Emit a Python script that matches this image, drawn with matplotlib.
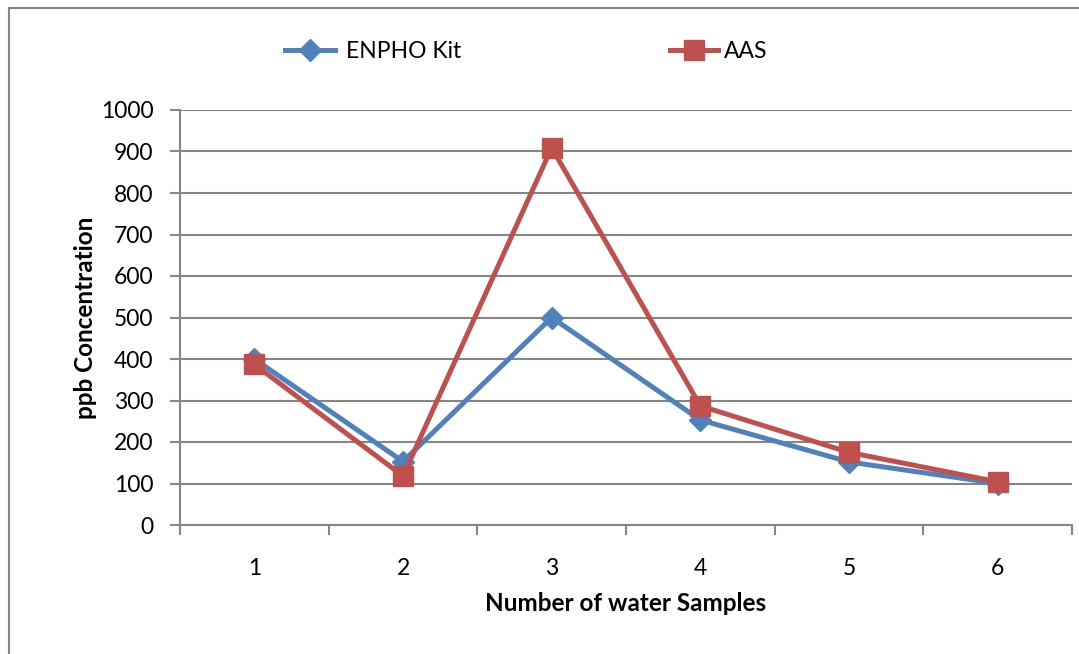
import matplotlib
matplotlib.use("Agg")
import matplotlib.pyplot as plt
from matplotlib.lines import Line2D

samples = ["1", "2", "3", "4", "5", "6"]
enpho = [400, 153, 500, 253, 152, 100]
aas = [387, 118, 909, 287, 175, 104]
yticks = [0, 100, 200, 300, 400, 500, 600, 700, 800, 900, 1000]

blue = "#4F81BD"
red = "#C0504D"
grid = "#868686"

plt.rcParams['font.family'] = ['Lato', 'DejaVu Sans']

fig = plt.figure(figsize=(10.79, 6.54), dpi=100)
ax = fig.add_axes([180/1079, 129/654, 892/1079, 415/654])

x = list(range(len(samples)))
ax.plot(x, enpho, color=blue, lw=3.6, marker="D", ms=11, mec=blue, mfc=blue,
        label="ENPHO Kit", zorder=3, solid_joinstyle="miter")
ax.plot(x, aas, color=red, lw=3.6, marker="s", ms=14, mec=red, mfc=red,
        label="AAS", zorder=4, solid_joinstyle="miter")

ax.set_xlim(-0.5, len(samples) - 0.5)
ax.set_ylim(0, 1000)
ax.set_yticks(yticks)
ax.set_yticklabels([str(v) for v in yticks])
ax.set_xticks(x)
ax.set_xticklabels(samples)
ax.set_xticks([i - 0.5 for i in range(len(samples) + 1)], minor=True)

ax.yaxis.grid(True, color=grid, lw=1.5)
ax.set_axisbelow(True)
for s in ["top", "right"]:
    ax.spines[s].set_visible(False)
for s in ["left", "bottom"]:
    ax.spines[s].set_color(grid)
    ax.spines[s].set_linewidth(1.5)

ax.tick_params(axis="y", which="major", length=7, width=1.5, color=grid,
               labelsize=16.5, pad=12)
ax.tick_params(axis="x", which="major", length=0, labelsize=16.5, pad=24)
ax.tick_params(axis="x", which="minor", length=7, width=1.5, color=grid)

ax.set_xlabel("Number of water Samples", fontsize=17.5, fontweight="bold", labelpad=9)
ax.set_ylabel("ppb Concentration", fontsize=17.5, fontweight="bold", labelpad=3)

h1 = Line2D([], [], color=blue, lw=3.6, marker="D", ms=11)
h2 = Line2D([], [], color=red, lw=3.6, marker="s", ms=14)
fig.legend([h1], ["ENPHO Kit"], loc="center left",
           bbox_to_anchor=(264/1079, 1 - 52/654), frameon=False,
           fontsize=16.5, handlelength=2.2, handletextpad=0.5)
fig.legend([h2], ["AAS"], loc="center left",
           bbox_to_anchor=(649/1079, 1 - 52/654), frameon=False,
           fontsize=16.5, handlelength=2.1, handletextpad=0.25)

fig.add_artist(Line2D([8.5/1079, 1], [1 - 7.5/654, 1 - 7.5/654], color=grid, lw=1.5,
                      transform=fig.transFigure))
fig.add_artist(Line2D([8.5/1079, 8.5/1079], [0, 1 - 7.5/654], color=grid, lw=1.5,
                      transform=fig.transFigure))

fig.savefig("out.png", dpi=100)
